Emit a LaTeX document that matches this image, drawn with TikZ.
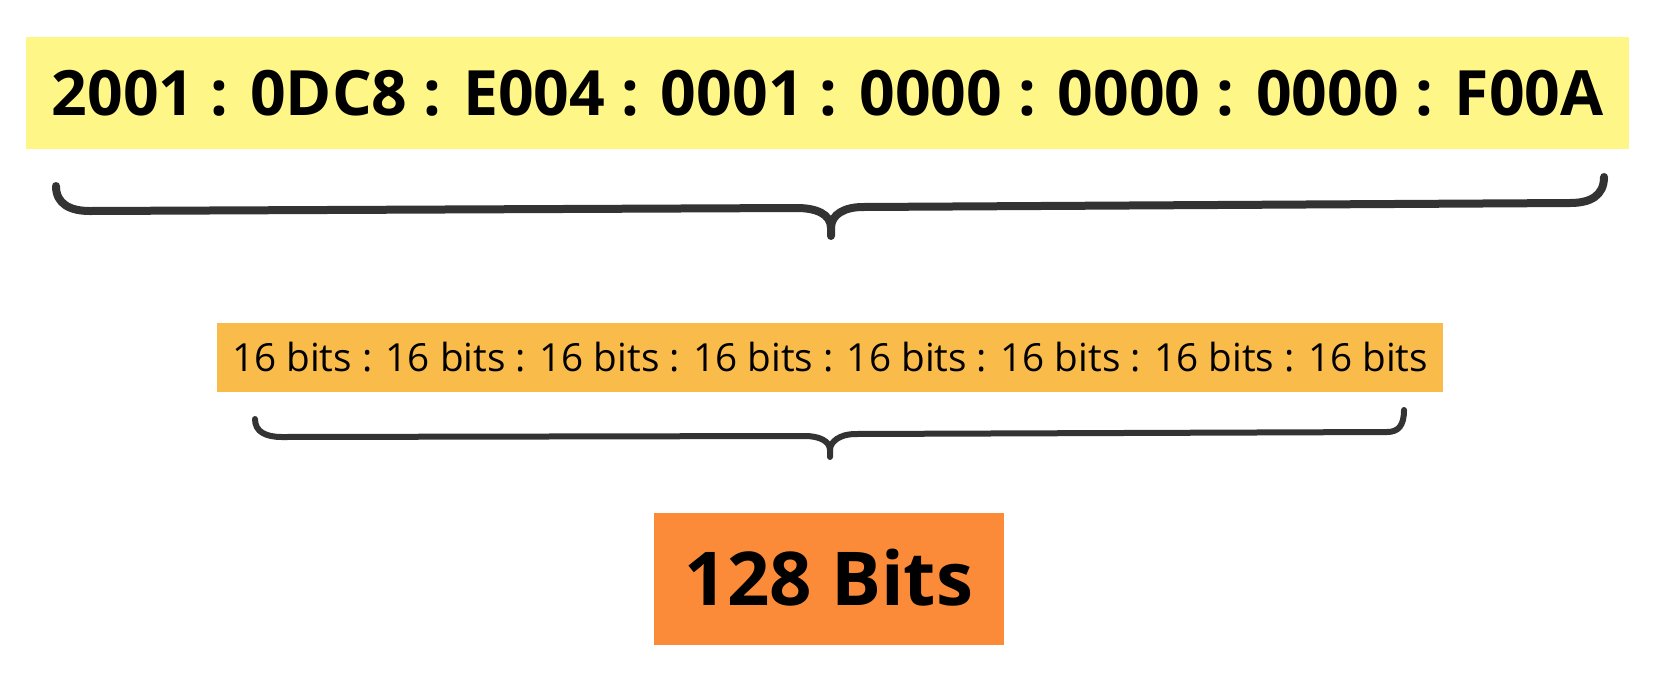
\documentclass[tikz,border=0pt]{standalone}
\usepackage{fontspec}
\setmainfont{Open Sans}
\definecolor{ipyellow}{HTML}{FFF688}
\definecolor{iplight}{HTML}{F9BC4B}
\definecolor{iporange}{HTML}{FB8A39}
\definecolor{bracecol}{HTML}{333333}
\begin{document}
\begin{tikzpicture}[x=1pt,y=-1pt,
  box/.style={rectangle, inner sep=0pt, outer sep=0pt, align=center, text=black},
  bracestyle/.style={draw=bracecol, line cap=round, line join=round}]
\useasboundingbox (0,0) rectangle (1661,673);
% top address
\node[box, fill=ipyellow, minimum width=1603pt, minimum height=112pt,
      font=\fontsize{62.5}{70}\selectfont\bfseries, text height=45pt, text depth=0pt]
  (addr) at (827.5,93) {2001 : 0DC8 : E004 : 0001 : 0000 : 0000 : 0000 : F00A};
% 16 bits row
\node[box, fill=iplight, minimum width=1226pt, minimum height=69pt,
      font=\fontsize{38.7}{44}\selectfont, text height=28pt, text depth=0pt]
  (bits) at (830,357.5) {16 bits : 16 bits : 16 bits : 16 bits : 16 bits : 16 bits : 16 bits : 16 bits};
% 128 bits
\node[box, fill=iporange, minimum width=350pt, minimum height=132pt,
      font=\fontsize{74.3}{82}\selectfont\bfseries, text height=53pt, text depth=0pt]
  (total) at (829,579) {128 Bits};
% brace 1
\coordinate (b1l) at (56,186);
\coordinate (b1m) at (831,236);
\coordinate (b1r) at (1604,177);
\draw[bracestyle, line width=8pt]
  (b1l) .. controls (56,204) and (70,211) .. (90,211) -- (797,208)
  .. controls (816,208) and (831,214) .. (831,228) -- (b1m);
\draw[bracestyle, line width=8pt]
  (831,228) .. controls (831,214) and (845,207) .. (863,207) -- (1570,203)
  .. controls (1590,203) and (1604,196) .. (b1r);
% brace 2
\coordinate (b2l) at (255,419);
\coordinate (b2m) at (830,457);
\coordinate (b2r) at (1404,410);
\draw[bracestyle, line width=6pt]
  (b2l) .. controls (255,432) and (266,437) .. (282,437) -- (805,436)
  .. controls (819,436) and (830,441) .. (830,450) -- (b2m);
\draw[bracestyle, line width=6pt]
  (830,450) .. controls (830,441) and (841,434) .. (855,434) -- (1387,432)
  .. controls (1398,432) and (1404,426) .. (b2r);
\end{tikzpicture}
\end{document}
